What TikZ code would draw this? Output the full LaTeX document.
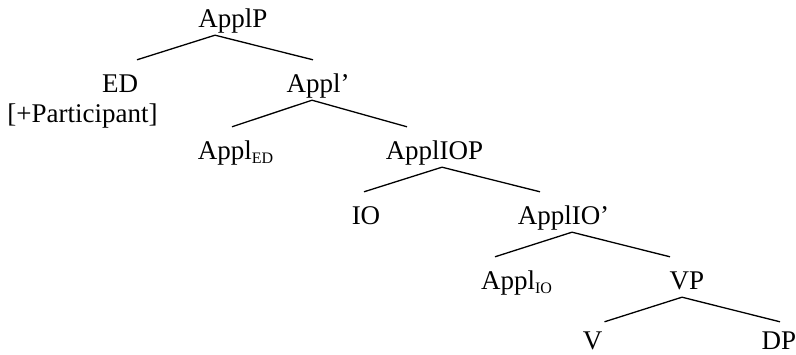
\documentclass[tikz,border=0pt]{standalone}
\usepackage{fontspec}
\setmainfont{Liberation Serif}
\newcommand{\lowsub}[1]{\raisebox{-4pt}{\fontsize{16}{16}\selectfont #1}}

\begin{document}
\begin{tikzpicture}[x=1pt,y=-1pt,
  lbl/.style={anchor=base,inner sep=0pt,text height=33pt,text depth=7pt,font=\fontsize{27}{30}\selectfont},
  branch/.style={line width=1.3pt}]
\useasboundingbox (0,0) rectangle (796,355);
% labels
\node[lbl] (applp) at (233,28) {ApplP};
\node[lbl] (ed) at (120,93) {ED};
\node[anchor=base,inner sep=0pt,font=\fontsize{27}{30}\selectfont] (edfeat) at (82.5,123) {[+Participant]};
\node[lbl] (applbar) at (318,93) {Appl’};
\node[lbl] (appled) at (235.5,160) {Appl\lowsub{ED}};
\node[lbl] (appliop) at (434.5,160) {ApplIOP};
\node[lbl] (io) at (366,225) {IO};
\node[lbl] (appliobar) at (563.5,225) {ApplIO’};
\node[lbl] (applio) at (516.5,290) {Appl\lowsub{IO}};
\node[lbl] (vp) at (687,290) {VP};
\node[lbl,text height=28pt,text depth=0pt] (v) at (592.5,350) {V};
\node[lbl,text height=28pt,text depth=0pt] (dp) at (779,350) {DP};
% branches
\draw[branch] ([xshift=17pt]ed.north) -- ([xshift=-18pt]applp.south) -- ([xshift=-5pt]applbar.north);
\draw[branch] ([xshift=-3.5pt]appled.north) -- ([xshift=-6pt]applbar.south) -- ([xshift=-27.5pt]appliop.north);
\draw[branch] ([xshift=-2pt]io.north) -- ([xshift=7.5pt]appliop.south) -- ([xshift=-23.5pt]appliobar.north);
\draw[branch] ([xshift=-21.5pt]applio.north) -- ([xshift=8.5pt]appliobar.south) -- ([xshift=-17pt]vp.north);
\draw[branch] ([xshift=12pt]v.north) -- ([xshift=-5pt]vp.south) -- ([xshift=1pt]dp.north);
\end{tikzpicture}
\end{document}
